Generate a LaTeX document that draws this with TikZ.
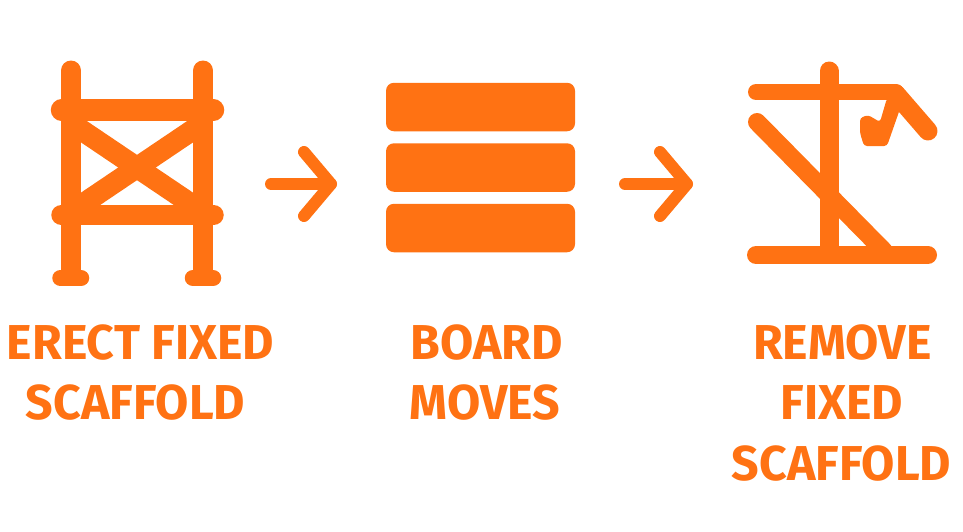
\documentclass[tikz,border=0pt]{standalone}
\usepackage{fontspec}
\setmainfont{Fira Sans}[FakeStretch=0.985]
\definecolor{scaforange}{HTML}{FF7213}
\tikzstyle{pole}=[draw=scaforange, line cap=round, line join=round]
\tikzstyle{arrow}=[pole, line width=12pt]
\tikzstyle{board}=[fill=scaforange, rounded corners=8pt, minimum width=189pt, minimum height=48.5pt, inner sep=0pt]
\tikzstyle{caption}=[text=scaforange, inner sep=0pt, font=\fontsize{49pt}{49pt}\selectfont\bfseries]

\begin{document}
\begin{tikzpicture}[x=1pt, y=-1pt]
      \useasboundingbox (0, 0) rectangle (963, 531);

      % fixed scaffold
      \draw[pole, line width=20pt] (71, 70.5) to (71, 275);
      \draw[pole, line width=20pt] (203, 70.5) to (203, 275);
      \draw[pole, line width=21.5pt] (61.5, 110) to (213.5, 110);
      \draw[pole, line width=20.5pt] (61.5, 215) to (213.5, 215);
      \draw[pole, line width=21pt, line cap=butt] (71, 123) to (203, 212);
      \draw[pole, line width=21pt, line cap=butt] (71, 212) to (203, 123);
      \draw[pole, line width=16.5pt] (60.5, 278) to (81, 278);
      \draw[pole, line width=16.5pt] (193, 278) to (213, 278);

      % arrows
      \coordinate (a1) at (271, 184);
      \coordinate (a2) at (331, 184);
      \coordinate (a3) at (304, 152);
      \coordinate (a4) at (304, 216);
      \draw[arrow] (a1) to (a2);
      \draw[arrow] (a3) -- (a2) -- (a4);

      \coordinate (b1) at (625, 184);
      \coordinate (b2) at (687, 184);
      \coordinate (b3) at (660, 152);
      \coordinate (b4) at (660, 216);
      \draw[arrow] (b1) to (b2);
      \draw[arrow] (b3) -- (b2) -- (b4);

      % boards
      \node[board] (board1) at (480.5, 107) {};
      \node[board] (board2) at (480.5, 167.5) {};
      \node[board] (board3) at (480.5, 228) {};

      % removed scaffold
      \draw[pole, line width=19pt] (829, 71) to (829, 250);
      \draw[pole, line width=16pt] (756, 92) to (896, 92);
      \draw[pole, line width=19pt] (896, 94) to (928, 131);
      \draw[pole, line width=18pt] (757, 122) to (884, 251);
      \draw[pole, line width=18pt] (756, 255) to (928, 255);
      \fill[scaforange, rounded corners=3pt] (887, 98) -- (880, 122) -- (868, 115) -- (860, 118) -- (860, 133) -- (864, 146) -- (887, 146) -- (901, 106) -- cycle;

      % captions
      \node[caption] (t1) at (140.5, 343) {ERECT FIXED};
      \node[caption] (t2) at (135.5, 403) {SCAFFOLD};
      \node[caption] (t3) at (487, 343) {BOARD};
      \node[caption] (t4) at (485, 403) {MOVES};
      \node[caption] (t5) at (842.5, 343) {REMOVE};
      \node[caption] (t6) at (842, 403) {FIXED};
      \node[caption] (t7) at (841.5, 464) {SCAFFOLD};
    \end{tikzpicture}
\end{document}
